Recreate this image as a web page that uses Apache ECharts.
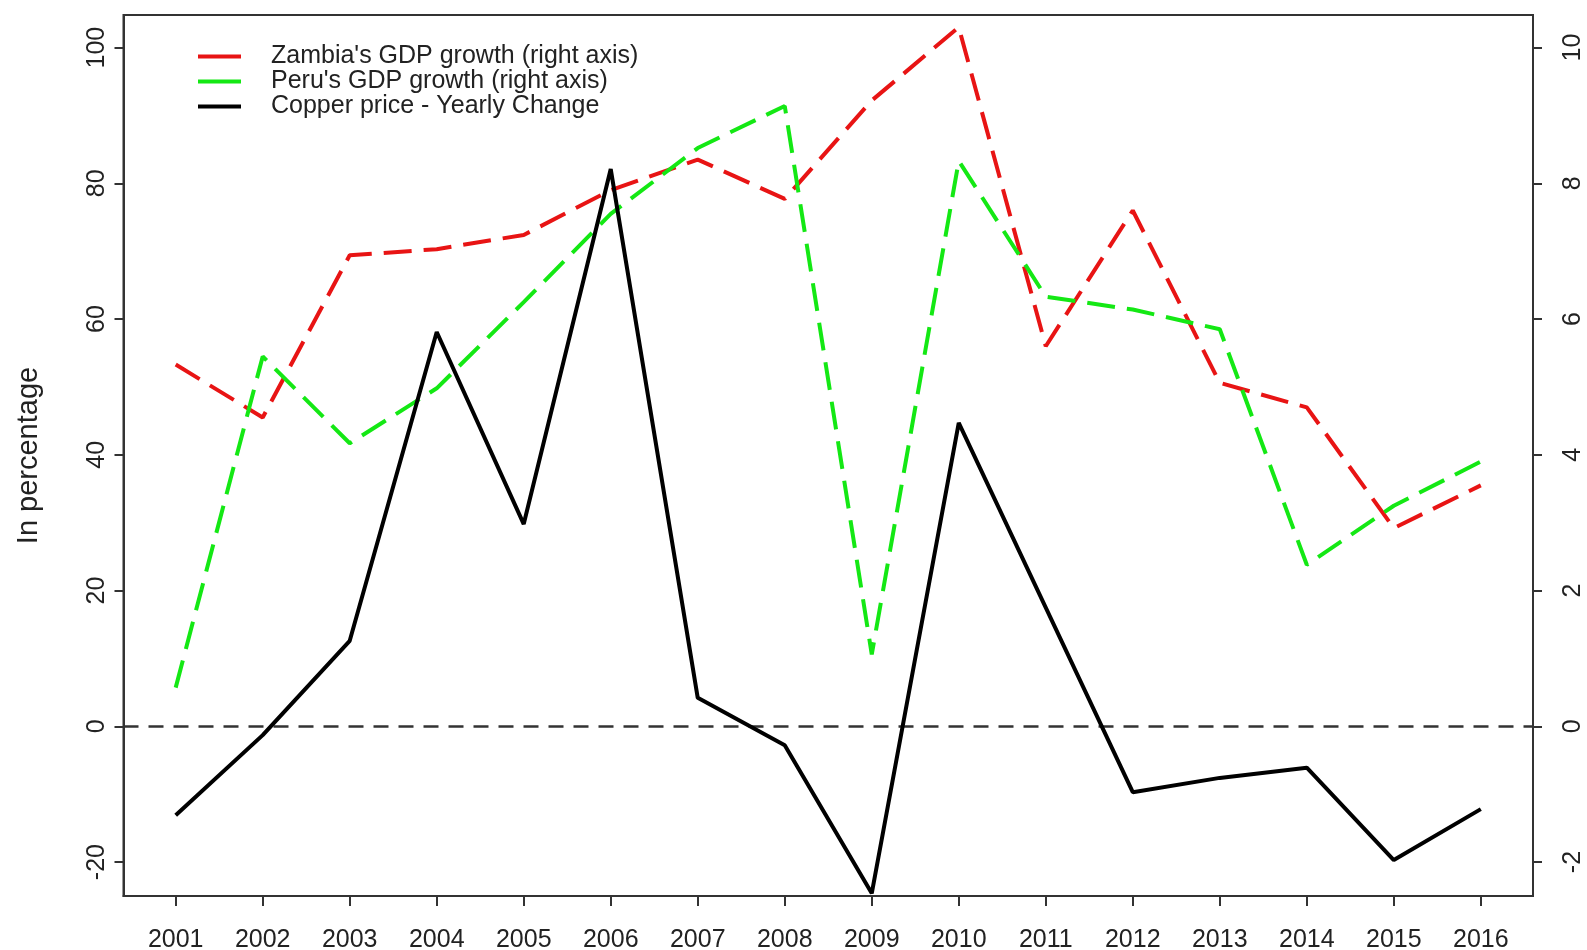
<!DOCTYPE html>
<html style="height: 100%">
<head>
    <meta charset="utf-8">
</head>
<body style="height: 100%; margin: 0; background: #fff">
    <div id="main" style="width: 1587px; height: 950px"></div>
    <script src="https://cdn.jsdelivr.net/npm/echarts@6/dist/echarts.min.js"></script>
    <script type="text/javascript">

        // years on the x axis
        var years = [2001, 2002, 2003, 2004, 2005, 2006, 2007, 2008,
                     2009, 2010, 2011, 2012, 2013, 2014, 2015, 2016];

        // GDP growth, read on the right axis (%)
        var zambiaGdp = [5.33, 4.55, 6.94, 7.03, 7.24, 7.90, 8.35, 7.77,
                         9.22, 10.30, 5.60, 7.60, 5.06, 4.70, 2.92, 3.55];
        var peruGdp = [0.57, 5.45, 4.17, 4.98, 6.25, 7.55, 8.52, 9.14,
                       1.06, 8.33, 6.33, 6.14, 5.85, 2.38, 3.25, 3.90];

        // copper price yearly change, left axis (%)
        var copperChange = [-13.1, -1.3, 12.6, 58.1, 29.8, 82.1, 4.2, -2.8,
                            -24.6, 44.7, 17.5, -9.7, -7.6, -6.1, -19.7, -12.2];

        var leftTicks = [-20, 0, 20, 40, 60, 80, 100];
        var rightTicks = [-2, 0, 2, 4, 6, 8, 10];

        function pairs(vals) {
            return vals.map(function (v, i) { return [years[i], v]; });
        }

        var chartDom = document.getElementById('main');
        var myChart = echarts.init(chartDom);
        var font = 'Liberation Sans, Arial, sans-serif';

        var option = {
            animation: false,
            backgroundColor: '#fff',
            grid: {
                left: 123.5,
                right: 54,
                top: 15,
                bottom: 54,
                outerBoundsMode: 'none',
                show: true,
                borderColor: '#333',
                borderWidth: 2
            },
            legend: {
                orient: 'vertical',
                left: 193,
                top: 39,
                itemWidth: 43,
                itemHeight: 4,
                itemGap: 0,
                icon: 'rect',
                textStyle: {
                    fontFamily: font,
                    fontSize: 25,
                    lineHeight: 25,
                    color: '#222',
                    padding: [0, 0, 0, 25]
                },
                data: ["Zambia's GDP growth (right axis)",
                       "Peru's GDP growth (right axis)",
                       'Copper price - Yearly Change']
            },
            xAxis: {
                type: 'value',
                min: 2000.4,
                max: 2016.6,
                splitLine: { show: false },
                axisLine: { show: true, onZero: false, lineStyle: { color: '#333', width: 2 } },
                axisTick: {
                    show: true,
                    length: 10,
                    customValues: years,
                    lineStyle: { color: '#333', width: 2 }
                },
                axisLabel: {
                    customValues: years,
                    formatter: function (v) { return String(v); },
                    margin: 32,
                    fontFamily: font,
                    fontSize: 25,
                    color: '#222'
                }
            },
            yAxis: [{
                type: 'value',
                min: -25,
                max: 104.8,
                position: 'left',
                name: 'In percentage',
                nameLocation: 'middle',
                nameRotate: 90,
                nameGap: 80,
                nameTextStyle: { fontFamily: font, fontSize: 29, color: '#222' },
                splitLine: { show: false },
                axisLine: { show: true, onZero: false, lineStyle: { color: '#333', width: 2 } },
                axisTick: {
                    show: true,
                    length: 9,
                    customValues: leftTicks,
                    lineStyle: { color: '#333', width: 2 }
                },
                axisLabel: {
                    customValues: leftTicks,
                    rotate: 90,
                    margin: 14,
                    fontFamily: font,
                    fontSize: 25,
                    color: '#222'
                }
            }, {
                type: 'value',
                min: -2.5,
                max: 10.48,
                position: 'right',
                splitLine: { show: false },
                axisLine: { show: true, onZero: false, lineStyle: { color: '#333', width: 2 } },
                axisTick: {
                    show: true,
                    length: 9,
                    customValues: rightTicks,
                    lineStyle: { color: '#333', width: 2 }
                },
                axisLabel: {
                    customValues: rightTicks,
                    rotate: 90,
                    margin: 28,
                    fontFamily: font,
                    fontSize: 25,
                    color: '#222'
                }
            }],
            series: [{
                name: "Zambia's GDP growth (right axis)",
                type: 'line',
                yAxisIndex: 1,
                symbol: 'none',
                color: '#e81414',
                lineStyle: { width: 4, type: [28, 12], cap: 'butt' },
                data: pairs(zambiaGdp),
                z: 3
            }, {
                name: "Peru's GDP growth (right axis)",
                type: 'line',
                yAxisIndex: 1,
                symbol: 'none',
                color: '#14e814',
                lineStyle: { width: 4, type: [28, 12], cap: 'butt' },
                data: pairs(peruGdp),
                z: 4
            }, {
                name: 'Copper price - Yearly Change',
                type: 'line',
                yAxisIndex: 0,
                symbol: 'none',
                color: '#000',
                lineStyle: { width: 4 },
                data: pairs(copperChange),
                z: 5,
                markLine: {
                    silent: true,
                    symbol: 'none',
                    label: { show: false },
                    lineStyle: { color: '#333', width: 2.5, type: [15, 10] },
                    data: [{ yAxis: 0 }]
                }
            }]
        };

        myChart.setOption(option);

    </script>
</body>
</html>
